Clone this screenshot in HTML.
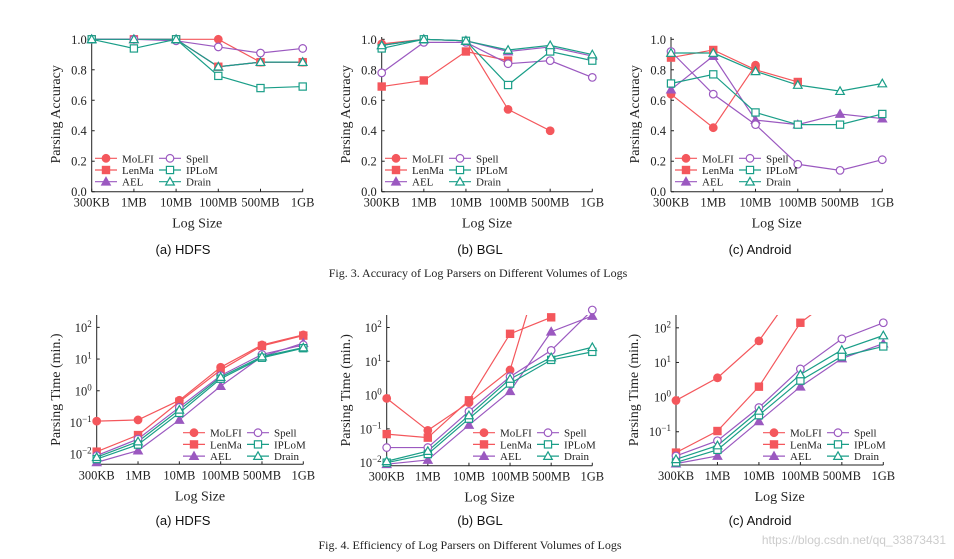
<!DOCTYPE html>
<html><head><meta charset="utf-8"><style>
body{margin:0;background:#fff;width:954px;height:559px;overflow:hidden}
svg{display:block}
.t{font-family:"Liberation Serif",serif;fill:#222}
.s{font-family:"Liberation Sans",sans-serif;fill:#111}
</style></head><body>
<svg id="fig" width="954" height="559" xmlns="http://www.w3.org/2000/svg">
<text class="s" x="183" y="254" font-size="13" text-anchor="middle">(a) HDFS</text>
<text class="s" x="480" y="254" font-size="13" text-anchor="middle">(b) BGL</text>
<text class="s" x="760" y="254" font-size="13" text-anchor="middle">(c) Android</text>
<text class="t" x="478" y="277" font-size="12" text-anchor="middle">Fig. 3.  Accuracy of Log Parsers on Different Volumes of Logs</text>
<text class="s" x="183" y="525" font-size="13" text-anchor="middle">(a) HDFS</text>
<text class="s" x="480" y="525" font-size="13" text-anchor="middle">(b) BGL</text>
<text class="s" x="760" y="525" font-size="13" text-anchor="middle">(c) Android</text>
<text class="t" x="470" y="549" font-size="12" text-anchor="middle">Fig. 4.  Efficiency of Log Parsers on Different Volumes of Logs</text>
<text x="946" y="544" font-size="12" text-anchor="end" fill="#ccc" font-family="Liberation Sans,sans-serif">https://blog.csdn.net/qq_33873431</text>
</svg>
<script>
const categories=["300KB","1MB","10MB","100MB","500MB","1GB"];
const seriesNames=["MoLFI","LenMa","AEL","Spell","IPLoM","Drain"];
const accHDFS_MoLFI=[1,1,1,1,0.85,0.85];
const accHDFS_LenMa=[1,1,1,0.82,0.85,0.85];
const accHDFS_AEL=[1,1,1,0.82,0.85,0.85];
const accHDFS_Spell=[1,1,0.99,0.95,0.91,0.94];
const accHDFS_IPLoM=[1,0.94,1,0.76,0.68,0.69];
const accHDFS_Drain=[1,1,1,0.82,0.85,0.85];
const accBGL_MoLFI=[0.97,1,0.99,0.54,0.40,null];
const accBGL_LenMa=[0.69,0.73,0.92,0.86,null,null];
const accBGL_AEL=[0.96,1,0.99,0.92,0.95,0.89];
const accBGL_Spell=[0.78,0.98,0.98,0.84,0.86,0.75];
const accBGL_IPLoM=[0.94,1,0.99,0.70,0.92,0.86];
const accBGL_Drain=[0.96,1,0.99,0.93,0.96,0.90];
const accAnd_MoLFI=[0.64,0.42,0.83,null,null,null];
const accAnd_LenMa=[0.88,0.93,0.80,0.72,null,null];
const accAnd_AEL=[0.67,0.89,0.47,0.44,0.51,0.48];
const accAnd_Spell=[0.92,0.64,0.44,0.18,0.14,0.21];
const accAnd_IPLoM=[0.71,0.77,0.52,0.44,0.44,0.51];
const accAnd_Drain=[0.91,0.91,0.79,0.70,0.66,0.71];
const timeHDFS_MoLFI=[0.11,0.12,0.5,5.5,28,58];
const timeHDFS_LenMa=[0.012,0.04,0.45,4.5,26,55];
const timeHDFS_AEL=[0.0055,0.013,0.12,1.4,12,32];
const timeHDFS_Spell=[0.009,0.03,0.3,3,14,28];
const timeHDFS_IPLoM=[0.007,0.02,0.2,2.4,11,22];
const timeHDFS_Drain=[0.008,0.025,0.25,2.7,12,23];
const timeBGL_MoLFI=[0.8,0.09,0.6,5.5,60000,null];
const timeBGL_LenMa=[0.07,0.055,0.7,65,200,5000];
const timeBGL_AEL=[0.009,0.012,0.13,1.3,75,220];
const timeBGL_Spell=[0.028,0.028,0.33,3.5,21,330];
const timeBGL_IPLoM=[0.01,0.018,0.2,2.2,11,19];
const timeBGL_Drain=[0.011,0.022,0.25,3,13,26];
const timeAnd_MoLFI=[0.8,3.6,42,2000,null,null];
const timeAnd_LenMa=[0.025,0.105,2,140,1100,null];
const timeAnd_AEL=[0.012,0.02,0.2,2,13,35];
const timeAnd_Spell=[0.02,0.055,0.5,6.5,48,140];
const timeAnd_IPLoM=[0.013,0.03,0.3,3,15,29];
const timeAnd_Drain=[0.016,0.04,0.4,4.5,23,60];
const accTicks=["0.0","0.2","0.4","0.6","0.8","1.0"];

const NS="http://www.w3.org/2000/svg";
const svg=document.getElementById('fig');
const RED="#f4575c",PUR="#9b59c0",TEAL="#1a9e88";
const styles=[{c:RED,m:"circle",f:1},{c:RED,m:"square",f:1},{c:PUR,m:"tri",f:1},{c:PUR,m:"circle",f:0},{c:TEAL,m:"square",f:0},{c:TEAL,m:"tri",f:0}];
function mk(tag,attrs,parent){const e=document.createElementNS(NS,tag);for(const k in attrs)e.setAttribute(k,attrs[k]);(parent||svg).appendChild(e);return e;}
function marker(g,st,x,y,name){
  let e;
  if(st.m==="circle")e=mk('circle',{cx:x,cy:y,r:3.8},g);
  else if(st.m==="square")e=mk('rect',{x:x-3.6,y:y-3.6,width:7.2,height:7.2},g);
  else e=mk('polygon',{points:`${x},${y-4.3} ${x+4.3},${y+3.3} ${x-4.3},${y+3.3}`},g);
  e.setAttribute('fill',st.f?st.c:'#fff');e.setAttribute('stroke',st.c);e.setAttribute('stroke-width',1.2);
  
  
}
let clipId=0;
function panel(p,series,pname){
  const g=mk('g',{});
  
  
  const xs=i=>p.xl+(p.xr-p.xl)*i/(categories.length-1);
  const ys=v=>{const t=p.log?Math.log10(v):v;return p.yb-(t-p.lmin)/(p.lmax-p.lmin)*(p.yb-p.yt);};
  mk('line',{x1:p.xl,y1:p.axTop,x2:p.xl,y2:p.yb,stroke:'#222','stroke-width':1},g);
  mk('line',{x1:p.xl,y1:p.yb,x2:p.xr,y2:p.yb,stroke:'#222','stroke-width':1},g);
  categories.forEach((c,i)=>{
    mk('line',{x1:xs(i),y1:p.yb,x2:xs(i),y2:p.yb-3,stroke:'#222'},g);
    const t=mk('text',{x:xs(i),y:p.yb+15,'font-size':12.5,'text-anchor':'middle',class:'t'},g);t.textContent=c;
  });
  if(!p.log){
    accTicks.forEach(s=>{const v=parseFloat(s),y=ys(v);
      mk('line',{x1:p.xl,y1:y,x2:p.xl+3,y2:y,stroke:'#222'},g);
      const t=mk('text',{x:p.xl-5,y:y+4.5,'font-size':12.5,'text-anchor':'end',class:'t'},g);t.textContent=s;});
  } else {
    p.decades.forEach(d=>{const y=ys(Math.pow(10,d));
      mk('line',{x1:p.xl,y1:y,x2:p.xl+3,y2:y,stroke:'#222'},g);
      const t=mk('text',{x:p.xl-5,y:y+4.5,'font-size':12.5,'text-anchor':'end',class:'t'},g);
      const a=mk('tspan',{},t);a.textContent='10';
      const b=mk('tspan',{dy:-5,'font-size':9},t);b.textContent=String(d).replace('-','\u2212');});
  }
  const xt=mk('text',{x:(p.xl+p.xr)/2,y:p.yb+36,'font-size':14,'text-anchor':'middle',class:'t'},g);xt.textContent='Log Size';
  
  
  const yt=mk('text',{x:0,y:0,'font-size':14,'text-anchor':'middle',class:'t',transform:`translate(${p.ytx},${(p.axTop+p.yb)/2}) rotate(-90)`},g);
  yt.textContent=p.log?'Parsing Time (min.)':'Parsing Accuracy';
  
  
  const id='c'+(clipId++);
  const cp=mk('clipPath',{id:id},g);mk('rect',{x:p.xl-6,y:p.axTop,width:p.xr-p.xl+12,height:p.yb-p.axTop+6},cp);
  const dg=mk('g',{'clip-path':`url(#${id})`},g);
  const mg=mk('g',{},g);
  series.forEach((vals,si)=>{
    const st=styles[si];let pts=[];
    const flush=()=>{if(pts.length>1){const pl=mk('polyline',{points:pts.join(' '),fill:'none',stroke:st.c,'stroke-width':1.2},dg);
      
      }pts=[];};
    vals.forEach((v,i)=>{if(v==null){flush();return;}pts.push(xs(i)+','+ys(v));});flush();
    vals.forEach((v,i)=>{if(v!=null&&ys(v)>p.axTop-8)marker(mg,st,xs(i),ys(v),'point-'+seriesNames[si].toLowerCase());});
  });
  seriesNames.forEach((n,si)=>{
    const col=Math.floor(si/3),row=si%3;
    const lx=p.lgx+col*p.lgdx,ly=p.lgy+row*11.7;
    const lg=mk('g',{},g);
    
    
    mk('line',{x1:lx,y1:ly,x2:lx+22,y2:ly,stroke:styles[si].c,'stroke-width':1.2},lg);
    marker(lg,styles[si],lx+11,ly,'legend-marker');
    const t=mk('text',{x:lx+27,y:ly+4,'font-size':11,class:'t'},lg);t.textContent=n;
  });
}
const A={yb:191.7,yt:39.3,lmin:0,lmax:1,axTop:37,log:false,lgy:158.3,lgdx:64};
panel(Object.assign({},A,{xl:91.7,xr:302.7,ytx:60,lgx:95}),[accHDFS_MoLFI,accHDFS_LenMa,accHDFS_AEL,accHDFS_Spell,accHDFS_IPLoM,accHDFS_Drain],'panel-acc-hdfs');
panel(Object.assign({},A,{xl:381.7,xr:592.3,ytx:350,lgx:385}),[accBGL_MoLFI,accBGL_LenMa,accBGL_AEL,accBGL_Spell,accBGL_IPLoM,accBGL_Drain],'panel-acc-bgl');
panel(Object.assign({},A,{xl:671,xr:882.3,ytx:639,lgx:675}),[accAnd_MoLFI,accAnd_LenMa,accAnd_AEL,accAnd_Spell,accAnd_IPLoM,accAnd_Drain],'panel-acc-android');
const T={log:true,axTop:315,yt:315,lgy:432.7,lgdx:64};
panel(Object.assign({},T,{xl:96.7,xr:303.3,yb:464.3,lmin:-2.32,lmax:2.39,decades:[-2,-1,0,1,2],ytx:60,lgx:183}),[timeHDFS_MoLFI,timeHDFS_LenMa,timeHDFS_AEL,timeHDFS_Spell,timeHDFS_IPLoM,timeHDFS_Drain],'panel-time-hdfs');
panel(Object.assign({},T,{xl:386.7,xr:592.3,yb:465.7,lmin:-2.09,lmax:2.37,decades:[-2,-1,0,1,2],ytx:350,lgx:473}),[timeBGL_MoLFI,timeBGL_LenMa,timeBGL_AEL,timeBGL_Spell,timeBGL_IPLoM,timeBGL_Drain],'panel-time-bgl');
panel(Object.assign({},T,{xl:676,xr:883.3,yb:465,lmin:-1.96,lmax:2.37,decades:[-1,0,1,2],ytx:638,lgx:763}),[timeAnd_MoLFI,timeAnd_LenMa,timeAnd_AEL,timeAnd_Spell,timeAnd_IPLoM,timeAnd_Drain],'panel-time-android');
</script>
</body></html>
